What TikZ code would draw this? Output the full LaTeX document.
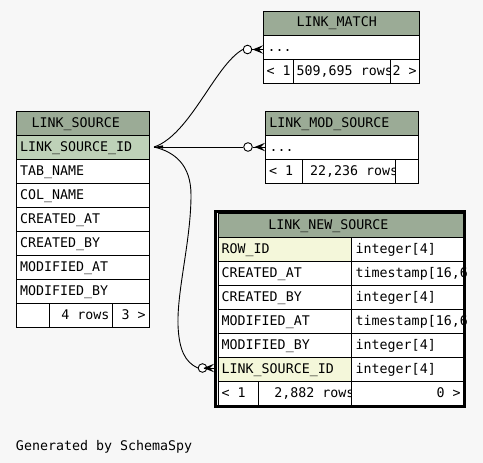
\documentclass[tikz,border=0pt]{standalone}
\usepackage{fontspec}
\newfontfamily\erfont{DejaVu Sans Mono}
\newcommand\erf{\erfont\fontsize{13.3pt}{16pt}\selectfont}
\definecolor{bgc}{HTML}{F7F7F7}
\definecolor{hdrc}{HTML}{9BAB96}
\definecolor{pkc}{HTML}{BED1B8}
\definecolor{idxc}{HTML}{F4F7DA}
\tikzset{
  cell/.style={draw=black, line width=1pt, anchor=north west, minimum height=24pt,
    inner sep=0pt, outer sep=0pt},
  txt/.style={inner sep=0pt, outer sep=0pt, font=\erf},
  edge/.style={draw=black, line width=0.9pt},
  odot/.style={circle, draw=black, line width=0.9pt, minimum size=8.6pt, inner sep=0pt, fill=white},
  crow/.pic={\fill[black] (0,-4.2) -- (-10.5,0) -- (0,4.2) -- (-4,0) -- cycle;
             \draw[line width=0.9pt] (-10.5,0) -- (0,0);}
}
% name, x, y, width, fill, x offset, text
\newcommand\erCell[7]{%
  \node[cell, fill=#5, minimum width=#4pt] (#1) at (#2,#3) {};
  \node[txt, anchor=base west] (#1-t) at ([shift={(#6pt,-16pt)}]#1.north west) {#7};}
\newcommand\erCellR[7]{%
  \node[cell, fill=#5, minimum width=#4pt] (#1) at (#2,#3) {};
  \node[txt, anchor=base east] (#1-t) at ([shift={(-#6pt,-16pt)}]#1.north east) {#7};}
\begin{document}
\begin{tikzpicture}[x=1pt, y=-1pt]
\path[use as bounding box, fill=bgc] (0,0) rectangle (483,463);

% LINK_SOURCE
\erCell{ls-h}{16}{111}{133}{hdrc}{15.7}{LINK\_SOURCE}
\erCell{ls-id}{16}{135}{133}{pkc}{4}{LINK\_SOURCE\_ID}
\erCell{ls-r2}{16}{159}{133}{white}{4}{TAB\_NAME}
\erCell{ls-r3}{16}{183}{133}{white}{4}{COL\_NAME}
\erCell{ls-r4}{16}{207}{133}{white}{4}{CREATED\_AT}
\erCell{ls-r5}{16}{231}{133}{white}{4}{CREATED\_BY}
\erCell{ls-r6}{16}{255}{133}{white}{4}{MODIFIED\_AT}
\erCell{ls-r7}{16}{279}{133}{white}{4}{MODIFIED\_BY}
\erCell{ls-f1}{16}{303}{33}{white}{4}{}
\erCellR{ls-f2}{49}{303}{63}{white}{2.5}{4 rows}
\erCellR{ls-f3}{112}{303}{37}{white}{3.3}{3 >}

% LINK_MATCH
\erCell{lm-h}{263}{11}{156}{hdrc}{33.7}{LINK\_MATCH}
\erCell{lm-r}{263}{35}{156}{white}{4.5}{...}
\erCell{lm-f1}{263}{59}{30}{white}{3.7}{< 1}
\erCell{lm-f2}{293}{59}{97}{white}{3.7}{509,695 rows}
\erCellR{lm-f3}{390}{59}{29}{white}{2.3}{2 >}

% LINK_MOD_SOURCE
\erCell{lms-h}{265}{111}{153}{hdrc}{4.3}{LINK\_MOD\_SOURCE}
\erCell{lms-r}{265}{135}{153}{white}{4.5}{...}
\erCell{lms-f1}{265}{159}{37}{white}{4}{< 1}
\erCell{lms-f2}{302}{159}{93}{white}{8}{22,236 rows}
\erCell{lms-f3}{395}{159}{23}{white}{4}{}

% LINK_NEW_SOURCE
\begin{scope}
\clip (214,210) rectangle (466,408);
\erCell{ns-h}{218}{213}{245}{hdrc}{50.3}{LINK\_NEW\_SOURCE}
\erCell{ns-r1a}{218}{237}{133}{idxc}{3.7}{ROW\_ID}
\erCell{ns-r1b}{351}{237}{112}{white}{4.7}{integer[4]}
\erCell{ns-r2a}{218}{261}{133}{white}{3.7}{CREATED\_AT}
\erCell{ns-r2b}{351}{261}{112}{white}{4.7}{timestamp[16,6]}
\erCell{ns-r3a}{218}{285}{133}{white}{3.7}{CREATED\_BY}
\erCell{ns-r3b}{351}{285}{112}{white}{4.7}{integer[4]}
\erCell{ns-r4a}{218}{309}{133}{white}{3.7}{MODIFIED\_AT}
\erCell{ns-r4b}{351}{309}{112}{white}{4.7}{timestamp[16,6]}
\erCell{ns-r5a}{218}{333}{133}{white}{3.7}{MODIFIED\_BY}
\erCell{ns-r5b}{351}{333}{112}{white}{4.7}{integer[4]}
\erCell{ns-r6a}{218}{357}{133}{idxc}{3.7}{LINK\_SOURCE\_ID}
\erCell{ns-r6b}{351}{357}{112}{white}{4.7}{integer[4]}
\erCell{ns-f1}{218}{381}{40}{white}{3.7}{< 1}
\erCell{ns-f2}{258}{381}{93}{white}{16.3}{2,882 rows}
\erCellR{ns-f3}{351}{381}{112}{white}{2.3}{0 >}
\end{scope}
\draw[line width=3pt] (215.5,211.5) rectangle (464.5,406.5);

% connectors
\coordinate (src) at ([xshift=5pt]ls-id.east);
\node[odot] (dm) at (247.5,49.5) {};
\node[odot] (dms) at (248,147) {};
\node[odot] (dns) at (202.5,368) {};
\draw[edge] (src) .. controls (190,135) and (215,65) .. (dm.west);
\draw[edge] (src) -- (dms.west);
\draw[edge] (src) .. controls (175,152) and (191,165) .. (191,195)
  .. controls (191,240) and (177,290) .. (178,325)
  .. controls (179,350) and (185,362) .. (dns.west);
\fill[black] (src) -- ++(9pt,1.7pt) -- ++(0pt,-3.4pt) -- cycle;
\coordinate (em) at (dm -| lm-r.west);
\coordinate (ems) at (dms -| lms-r.west);
\coordinate (ens) at (214,368);
\draw[edge] (dm.east) -- (em);
\draw[edge] (dms.east) -- (ems);
\draw[edge] (dns.east) -- (ens);
\pic at (em) {crow};
\pic at (ems) {crow};
\pic at (ens) {crow};

\node[txt, anchor=base west] (gen) at (16,450) {Generated by SchemaSpy};
\end{tikzpicture}
\end{document}
